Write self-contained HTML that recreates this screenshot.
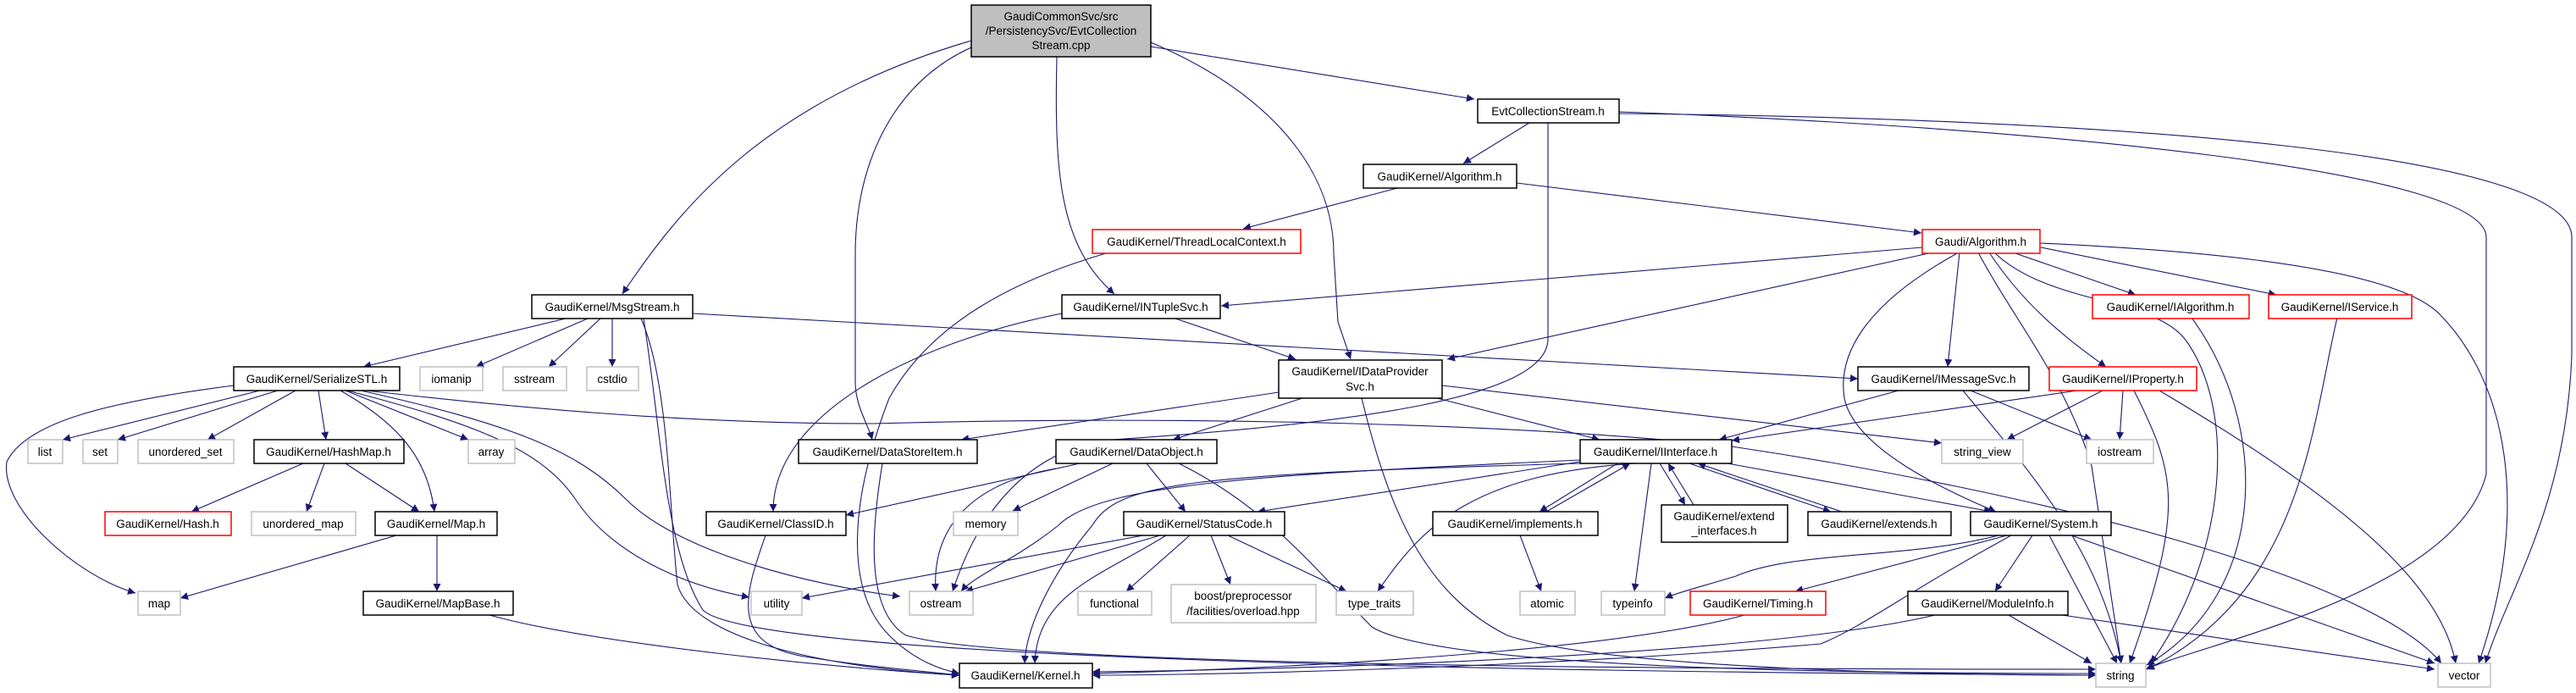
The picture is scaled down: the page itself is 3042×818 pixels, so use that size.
<!DOCTYPE html>
<html><head><meta charset="utf-8"><style>
html,body{margin:0;padding:0;background:#fff}
svg{display:block}
text{font-family:"Liberation Sans",sans-serif;font-size:13.5px;fill:#000}
.e{fill:none;stroke:#191970;stroke-width:1.1}
</style></head><body>
<svg width="3042" height="818" viewBox="0 0 3042 818" xmlns="http://www.w3.org/2000/svg">
<defs><marker id="a" viewBox="0 0 10 10" refX="10" refY="5" markerWidth="11" markerHeight="9" markerUnits="userSpaceOnUse" orient="auto"><path d="M0,0L10,5L0,10z" fill="#191970"/></marker></defs>
<g class="e" marker-end="url(#a)">
<path d="M1147,48 C900,120 800,250 735,347"/>
<path d="M1147,56 C1050,100 1010,200 1010,300 L1010,450 C1010,480 1025,500 1030,519"/>
<path d="M1248,67 C1245,200 1250,290 1316,347"/>
<path d="M1359,50 C1500,110 1575,200 1575,300 L1580,380 L1595,424"/>
<path d="M1359,55 L1741,117"/>
<path d="M1806,145 L1728,193"/>
<path d="M1828,145 L1828,400 C1828,470 1600,500 1300,520 C1200,540 1150,620 1125,698"/>
<path d="M1912,132 C2400,150 2936,200 2936,280 L2936,560 C2900,700 2600,760 2534,790"/>
<path d="M1912,134 C2500,140 3037,180 3037,280 L3037,420 C3030,600 2960,700 2935,783"/>
<path d="M1650,222 L1468,270"/>
<path d="M1791,216 L2269,275"/>
<path d="M1306,299 C1200,330 1100,380 1050,470 C1000,600 1000,700 1050,750 C1080,780 1110,790 1133,795"/>
<path d="M2270,292 L1442,361"/>
<path d="M2282,298 L1709,424"/>
<path d="M2314,298 L2300,433"/>
<path d="M2313,298 C2200,360 2170,420 2178,470 C2190,530 2300,580 2357,604"/>
<path d="M2336,298 C2380,380 2440,450 2470,550 L2505,783"/>
<path d="M2349,298 C2390,360 2440,400 2487,433"/>
<path d="M2377,298 L2522,348"/>
<path d="M2410,292 L2688,348"/>
<path d="M2409,287 C2700,300 2840,330 2880,370 C2960,450 2990,600 2927,783"/>
<path d="M2355,298 C2420,360 2540,350 2580,400 C2640,480 2633,650 2540,783"/>
<path d="M668,376 L429,433"/>
<path d="M694,376 L562,433"/>
<path d="M709,376 L648,433"/>
<path d="M723,376 L723,433"/>
<path d="M757,376 C790,450 790,600 800,690 C820,760 1000,790 1133,797"/>
<path d="M760,376 C780,500 785,650 830,720 C900,790 2200,795 2475,797"/>
<path d="M818,370 L2194,447"/>
<path d="M307,461 L74,519"/>
<path d="M328,461 L139,519"/>
<path d="M349,461 L245,519"/>
<path d="M376,461 L385,519"/>
<path d="M408,461 L553,519"/>
<path d="M402,461 C470,500 505,540 513,604"/>
<path d="M276,455 C120,475 30,500 8,545 C0,600 90,680 160,700"/>
<path d="M410,461 C560,500 640,530 680,590 C720,650 800,690 885,705"/>
<path d="M426,461 C600,500 680,530 740,590 C800,650 950,690 1063,704"/>
<path d="M432,461 C600,480 800,500 1030,500 C1400,490 1800,500 2045,527 C2400,580 2800,680 2883,783"/>
<path d="M358,547 L226,604"/>
<path d="M383,547 L362,604"/>
<path d="M408,547 L495,604"/>
<path d="M468,632 L213,706"/>
<path d="M516,632 L516,698"/>
<path d="M578,726 C700,760 1000,790 1133,797"/>
<path d="M904,632 C880,700 860,760 950,775 C1030,788 1100,793 1133,797"/>
<path d="M1042,547 C1030,620 1020,720 1070,750 C1200,790 2200,790 2475,790"/>
<path d="M1254,370 C1100,400 913,480 913,604"/>
<path d="M1385,375 L1530,424"/>
<path d="M1510,463 L1135,519"/>
<path d="M1538,470 L1385,519"/>
<path d="M1697,470 L1889,519"/>
<path d="M1703,455 L2293,523"/>
<path d="M1608,470 C1640,600 1680,700 1780,750 C1900,790 2300,797 2475,797"/>
<path d="M1314,547 L1196,603"/>
<path d="M1275,547 L999,608"/>
<path d="M1354,547 L1400,604"/>
<path d="M1247,553 C1150,570 1100,620 1105,698"/>
<path d="M1392,547 C1500,600 1560,680 1620,740 C1700,790 2200,795 2475,795"/>
<path d="M1866,545 L1485,604"/>
<path d="M1866,547 C1400,560 1320,570 1290,620 C1240,680 1212,740 1210,783"/>
<path d="M1866,543 C1500,560 1300,570 1250,620 C1200,660 1150,680 1135,698"/>
<path d="M1930,547 C1740,560 1680,620 1627,698"/>
<path d="M1950,547 L1930,698"/>
<path d="M1910,547 L1818,604"/>
<path d="M1826,604 L1925,547"/>
<path d="M1960,547 L1990,596"/>
<path d="M2000,596 L1970,547"/>
<path d="M1995,547 L2162,604"/>
<path d="M2175,604 L2005,547"/>
<path d="M2040,547 L2352,604"/>
<path d="M1370,632 L1140,698"/>
<path d="M1377,632 C1300,680 1225,700 1222,783"/>
<path d="M1405,632 L1330,698"/>
<path d="M1430,632 L1453,690"/>
<path d="M1450,632 L1590,698"/>
<path d="M1350,632 L947,706"/>
<path d="M1795,632 L1820,698"/>
<path d="M2360,632 C2250,660 2120,650 2050,680 C2000,695 1980,700 1966,706"/>
<path d="M2370,632 L2120,698"/>
<path d="M2400,632 L2356,698"/>
<path d="M2375,632 C2250,700 2200,740 2150,760 C1800,790 1400,797 1290,797"/>
<path d="M2420,632 L2500,783"/>
<path d="M2446,632 L2875,783"/>
<path d="M2060,726 C1900,770 1500,790 1290,795"/>
<path d="M2285,726 C2100,770 1600,790 1290,793"/>
<path d="M2372,726 L2470,783"/>
<path d="M2435,726 L2875,790"/>
<path d="M2242,461 L2030,519"/>
<path d="M2318,461 C2400,560 2480,650 2505,783"/>
<path d="M2327,461 L2470,519"/>
<path d="M2453,461 L2045,520"/>
<path d="M2483,461 L2370,519"/>
<path d="M2507,461 L2503,519"/>
<path d="M2520,461 C2570,560 2580,600 2515,783"/>
<path d="M2550,461 C2750,580 2880,680 2900,783"/>
<path d="M2760,375 C2730,500 2720,700 2535,790"/>
<path d="M2588,375 C2680,500 2681,700 2535,785"/>
</g>
<g stroke-width="1.5">
<rect x="1147" y="6" width="212" height="61" fill="#bfbfbf" stroke="#000"/>
<g fill="#fff" stroke="#000">
<rect x="1745" y="117" width="167" height="28"/>
<rect x="1610" y="194" width="181" height="28"/>
<rect x="628" y="348" width="190" height="28"/>
<rect x="1254" y="348" width="187" height="28"/>
<rect x="276" y="433" width="196" height="28"/>
<rect x="2194" y="433" width="202" height="28"/>
<rect x="1510" y="425" width="193" height="45"/>
<rect x="300" y="519" width="177" height="28"/>
<rect x="943" y="519" width="211" height="28"/>
<rect x="1247" y="519" width="190" height="28"/>
<rect x="1866" y="519" width="179" height="28"/>
<rect x="443" y="604" width="144" height="28"/>
<rect x="834" y="604" width="165" height="28"/>
<rect x="1327" y="604" width="190" height="28"/>
<rect x="1692" y="604" width="195" height="28"/>
<rect x="1962" y="596" width="149" height="44"/>
<rect x="2135" y="604" width="169" height="28"/>
<rect x="2327" y="604" width="166" height="28"/>
<rect x="429" y="698" width="177" height="28"/>
<rect x="2253" y="698" width="189" height="28"/>
<rect x="1133" y="783" width="157" height="29"/>
</g>
<g fill="#fff" stroke="#ff0000">
<rect x="1290" y="271" width="246" height="28"/>
<rect x="2270" y="271" width="139" height="28"/>
<rect x="2471" y="348" width="185" height="28"/>
<rect x="2679" y="348" width="169" height="28"/>
<rect x="2420" y="433" width="174" height="28"/>
<rect x="124" y="604" width="149" height="28"/>
<rect x="1996" y="698" width="160" height="28"/>
</g>
<g fill="#fff" stroke="#c0c0c0">
<rect x="496" y="433" width="74" height="28"/>
<rect x="594" y="433" width="75" height="28"/>
<rect x="693" y="433" width="61" height="28"/>
<rect x="33" y="519" width="41" height="28"/>
<rect x="98" y="519" width="41" height="28"/>
<rect x="163" y="519" width="113" height="28"/>
<rect x="553" y="519" width="55" height="28"/>
<rect x="2293" y="519" width="96" height="28"/>
<rect x="2464" y="519" width="79" height="28"/>
<rect x="297" y="604" width="123" height="28"/>
<rect x="1126" y="604" width="76" height="28"/>
<rect x="163" y="698" width="50" height="28"/>
<rect x="887" y="698" width="60" height="28"/>
<rect x="1074" y="698" width="75" height="28"/>
<rect x="1273" y="698" width="87" height="28"/>
<rect x="1383" y="690" width="171" height="45"/>
<rect x="1578" y="698" width="91" height="28"/>
<rect x="1795" y="698" width="65" height="28"/>
<rect x="1891" y="698" width="75" height="28"/>
<rect x="2475" y="783" width="59" height="28"/>
<rect x="2879" y="783" width="62" height="28"/>
</g>
</g>
<g text-anchor="middle">
<text x="1253" y="24">GaudiCommonSvc/src</text>
<text x="1253" y="41">/PersistencySvc/EvtCollection</text>
<text x="1253" y="58">Stream.cpp</text>
<text x="1828" y="136">EvtCollectionStream.h</text>
<text x="1700" y="213">GaudiKernel/Algorithm.h</text>
<text x="1413" y="290">GaudiKernel/ThreadLocalContext.h</text>
<text x="2339" y="290">Gaudi/Algorithm.h</text>
<text x="723" y="367">GaudiKernel/MsgStream.h</text>
<text x="1347" y="367">GaudiKernel/INTupleSvc.h</text>
<text x="2563" y="367">GaudiKernel/IAlgorithm.h</text>
<text x="2763" y="367">GaudiKernel/IService.h</text>
<text x="374" y="452">GaudiKernel/SerializeSTL.h</text>
<text x="533" y="452">iomanip</text>
<text x="631" y="452">sstream</text>
<text x="723" y="452">cstdio</text>
<text x="1606" y="443">GaudiKernel/IDataProvider</text>
<text x="1606" y="461">Svc.h</text>
<text x="2295" y="452">GaudiKernel/IMessageSvc.h</text>
<text x="2507" y="452">GaudiKernel/IProperty.h</text>
<text x="53" y="538">list</text>
<text x="118" y="538">set</text>
<text x="219" y="538">unordered_set</text>
<text x="388" y="538">GaudiKernel/HashMap.h</text>
<text x="580" y="538">array</text>
<text x="1048" y="538">GaudiKernel/DataStoreItem.h</text>
<text x="1342" y="538">GaudiKernel/DataObject.h</text>
<text x="1955" y="538">GaudiKernel/IInterface.h</text>
<text x="2341" y="538">string_view</text>
<text x="2503" y="538">iostream</text>
<text x="198" y="623">GaudiKernel/Hash.h</text>
<text x="358" y="623">unordered_map</text>
<text x="515" y="623">GaudiKernel/Map.h</text>
<text x="916" y="623">GaudiKernel/ClassID.h</text>
<text x="1164" y="623">memory</text>
<text x="1422" y="623">GaudiKernel/StatusCode.h</text>
<text x="1789" y="623">GaudiKernel/implements.h</text>
<text x="2036" y="614">GaudiKernel/extend</text>
<text x="2036" y="631">_interfaces.h</text>
<text x="2219" y="623">GaudiKernel/extends.h</text>
<text x="2410" y="623">GaudiKernel/System.h</text>
<text x="188" y="717">map</text>
<text x="517" y="717">GaudiKernel/MapBase.h</text>
<text x="917" y="717">utility</text>
<text x="1111" y="717">ostream</text>
<text x="1316" y="717">functional</text>
<text x="1468" y="708">boost/preprocessor</text>
<text x="1468" y="726">/facilities/overload.hpp</text>
<text x="1623" y="717">type_traits</text>
<text x="1827" y="717">atomic</text>
<text x="1928" y="717">typeinfo</text>
<text x="2076" y="717">GaudiKernel/Timing.h</text>
<text x="2347" y="717">GaudiKernel/ModuleInfo.h</text>
<text x="1211" y="802">GaudiKernel/Kernel.h</text>
<text x="2504" y="802">string</text>
<text x="2910" y="802">vector</text>
</g>
</svg>
</body></html>
